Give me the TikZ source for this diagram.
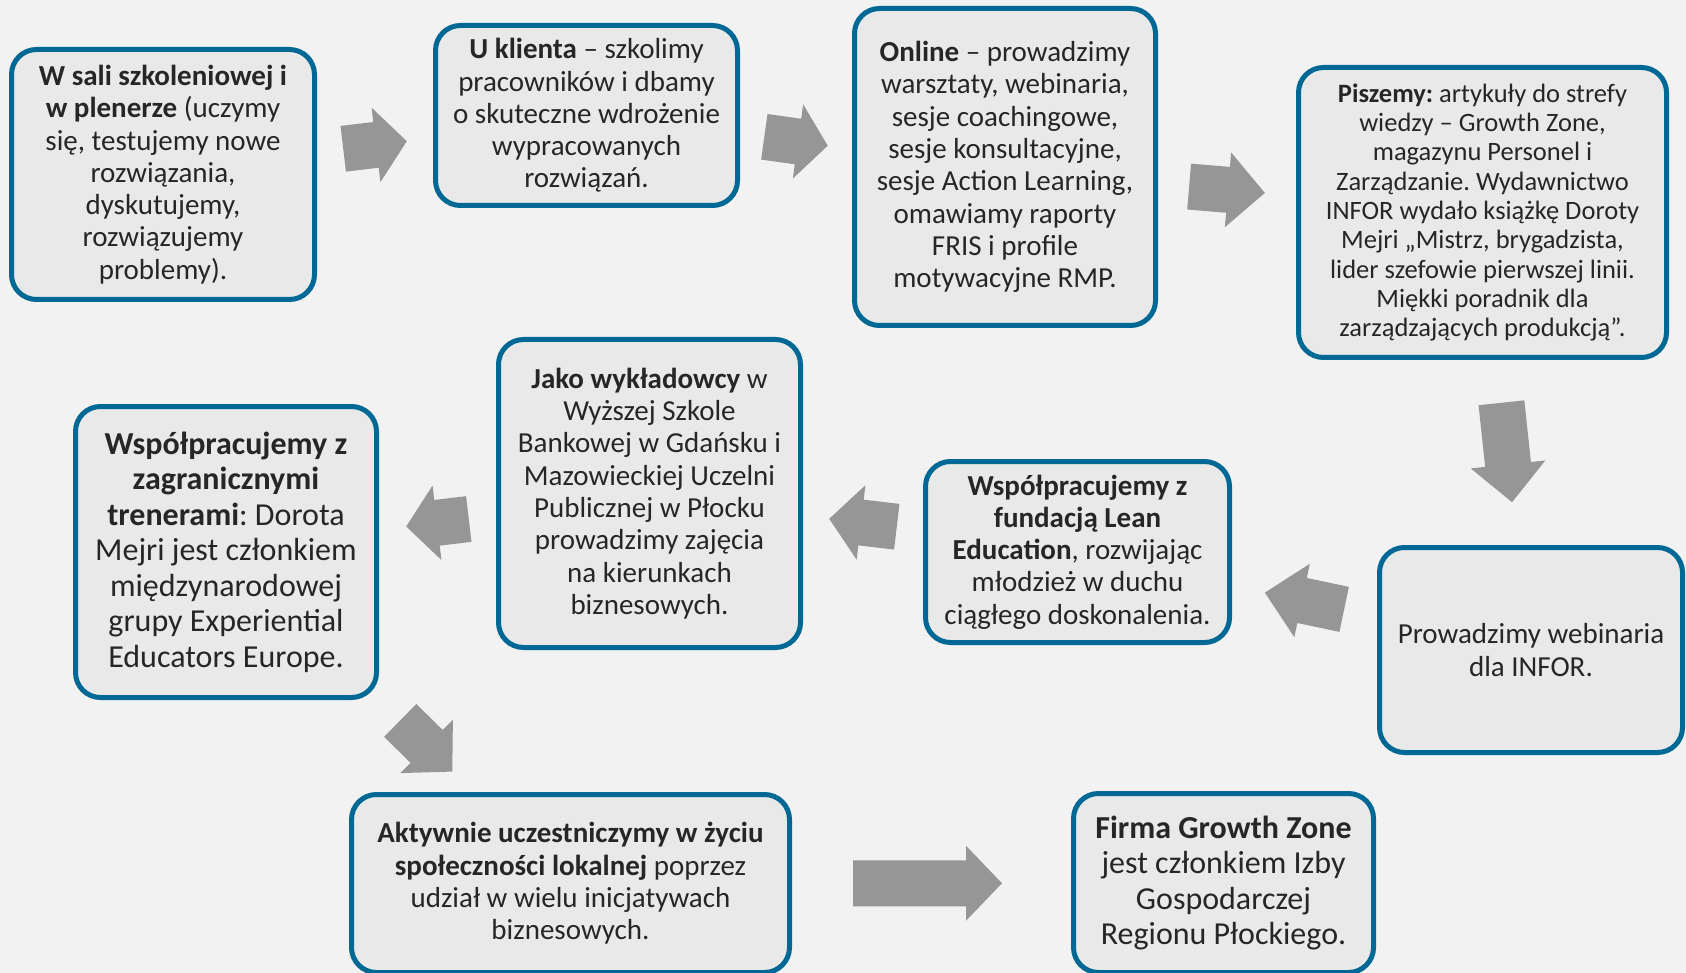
\documentclass[tikz,border=0pt]{standalone}
\usepackage{fontspec}
\setmainfont{Carlito}
\frenchspacing
\usetikzlibrary{calc}

\definecolor{bggrey}{RGB}{242,242,242}
\definecolor{boxgrey}{RGB}{233,233,233}
\definecolor{boxblue}{RGB}{0,104,148}
\definecolor{arrowgrey}{RGB}{150,150,150}
\definecolor{textgrey}{RGB}{38,38,38}

\tikzset{
  box/.style={draw=boxblue, line width=5pt, fill=boxgrey, rounded corners=25pt,
    align=center, text=textgrey, inner sep=0pt,
    font=\fontsize{29}{32.3}\selectfont},
  smalltext/.style={font=\fontsize{26.5}{29.3}\selectfont},
  bigtext/.style={font=\fontsize{32}{35.5}\selectfont},
  % grey block arrow: total length, head length
  pics/blockarrow/.style 2 args={
    code={\fill[arrowgrey] ({-#1/2},-23) -- ({#1/2-#2},-23) -- ({#1/2-#2},-37.5)
      -- ({#1/2},0) -- ({#1/2-#2},37.5) -- ({#1/2-#2},23) -- ({-#1/2},23) -- cycle;}
  }
}

\begin{document}
\begin{tikzpicture}[x=1pt,y=-1pt]

% page
\fill[bggrey] (0,0) rectangle (1686,973);
\useasboundingbox (0,0) rectangle (1686,973);

% top row
\node[box, minimum width=303, minimum height=250] (sala) at (163,174.5)
  {\textbf{W sali szkoleniowej i}\\ \textbf{w plenerze} (uczymy\\ się, testujemy nowe\\ rozwiązania,\\ dyskutujemy,\\ rozwiązujemy\\ problemy).};
\node[box, minimum width=302, minimum height=180] (klient) at (586.5,115.5)
  {\textbf{U klienta} – szkolimy\\ pracowników i dbamy\\ o skuteczne wdrożenie\\ wypracowanych\\ rozwiązań.};
\node[box, minimum width=301, minimum height=317] (online) at (1005,167)
  {\textbf{Online} – prowadzimy\\ warsztaty, webinaria,\\ sesje coachingowe,\\ sesje konsultacyjne,\\ sesje Action Learning,\\ omawiamy raporty\\ FRIS i profile\\ motywacyjne RMP.};
\node[box, smalltext, minimum width=368, minimum height=290] (piszemy) at (1482.5,212.5)
  {\textbf{Piszemy:} artykuły do strefy\\ wiedzy – Growth Zone,\\ magazynu Personel i\\ Zarządzanie. Wydawnictwo\\ INFOR wydało książkę Doroty\\ Mejri „Mistrz, brygadzista,\\ lider szefowie pierwszej linii.\\ Miękki poradnik dla\\ zarządzających produkcją”.};

% middle row
\node[box, minimum width=303, minimum height=205] (infor) at (1531,650)
  {Prowadzimy webinaria\\ dla INFOR.};
\node[box, minimum width=304, minimum height=181] (lean) at (1077.5,552)
  {\textbf{Współpracujemy z}\\ \textbf{fundacją Lean}\\ \textbf{Education}, rozwijając\\ młodzież w duchu\\ ciągłego doskonalenia.};
\node[box, minimum width=302, minimum height=308] (uczelnie) at (649.5,493.5)
  {\textbf{Jako wykładowcy} w\\ Wyższej Szkole\\ Bankowej w Gdańsku i\\ Mazowieckiej Uczelni\\ Publicznej w Płocku\\ prowadzimy zajęcia\\ na kierunkach\\ biznesowych.};
\node[box, bigtext, minimum width=301, minimum height=291] (trenerzy) at (226,552)
  {\textbf{Współpracujemy z}\\ \textbf{zagranicznymi}\\ \textbf{trenerami}: Dorota\\ Mejri jest członkiem\\ międzynarodowej\\ grupy Experiential\\ Educators Europe.};

% bottom row
\node[box, minimum width=438, minimum height=178] (lokalnie) at (570.5,883.5)
  {\textbf{Aktywnie uczestniczymy w życiu}\\ \textbf{społeczności lokalnej} poprzez\\ udział w wielu inicjatywach\\ biznesowych.};
\node[box, bigtext, minimum width=300, minimum height=179] (izba) at (1223.5,883)
  {\textbf{Firma Growth Zone}\\ jest członkiem Izby\\ Gospodarczej\\ Regionu Płockiego.};

% arrows between boxes
\pic[rotate=6.8] at ($(sala.east)!.5!(klient.west)$) {blockarrow={64}{31}};
\pic[rotate=-8] at ($(klient.east)!.5!(online.west)$) {blockarrow={64}{30}};
\pic[rotate=-4.8] at ($(online.east)!.5!(piszemy.west)$) {blockarrow={76}{37}};
\pic[rotate=-83.9] at ($(piszemy.south)!.5!(infor.north)$) {blockarrow={100}{38}};
\pic[rotate=168.1] at ($(infor.west)!.5!(lean.east)$) {blockarrow={81}{38}};
\pic[rotate=173.3] at ($(lean.west)!.5!(uczelnie.east)$) {blockarrow={68}{32}};
\pic[rotate=186.8] at ($(uczelnie.west)!.5!(trenerzy.east)$) {blockarrow={63}{31}};
\pic[rotate=-44.5] at ($(trenerzy.south)!.5!(lokalnie.north)+(28,0)$) {blockarrow={73}{36}};
\pic at ($(lokalnie.east)!.5!(izba.west)+(-4,0)$) {blockarrow={149}{36}};

\end{tikzpicture}
\end{document}
